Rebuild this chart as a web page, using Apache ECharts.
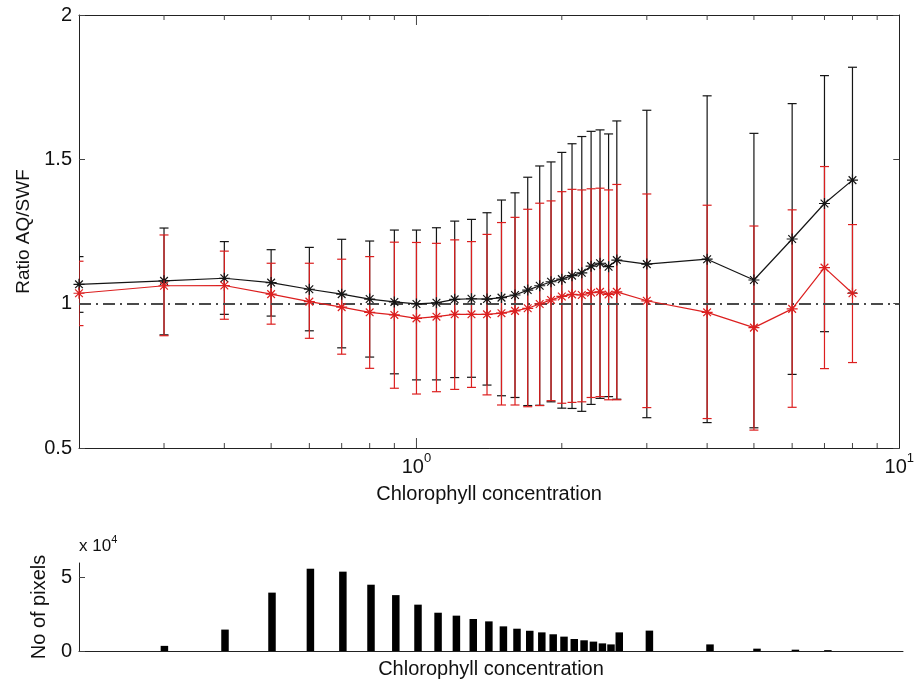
<!DOCTYPE html>
<html><head><meta charset="utf-8">
<script src="https://cdn.jsdelivr.net/npm/echarts@6/dist/echarts.min.js"></script>
<style>html,body{margin:0;padding:0;background:#fff}#c{width:917px;height:684px}</style>
</head><body><div id="c"></div>
<script>
// ---- data ----
const chl = [0.2,0.3,0.4,0.5,0.6,0.7,0.8,0.9,1.0,1.1,1.2,1.3,1.4,1.5,1.6,1.7,1.8,1.9,2.0,2.1,2.2,2.3,2.4,2.5,2.6,3,4,5,6,7,8];
const blackMean = [1.067,1.079,1.088,1.073,1.050,1.033,1.016,1.006,0.999,1.003,1.015,1.017,1.016,1.021,1.030,1.047,1.062,1.076,1.085,1.097,1.107,1.130,1.140,1.128,1.151,1.137,1.154,1.082,1.224,1.347,1.428];
const blackHi = [1.163,1.262,1.215,1.187,1.195,1.223,1.217,1.255,1.255,1.263,1.286,1.292,1.315,1.359,1.384,1.438,1.477,1.491,1.524,1.554,1.579,1.597,1.602,1.588,1.633,1.670,1.720,1.590,1.693,1.790,1.819];
const blackLo = [0.970,0.892,0.963,0.957,0.906,0.847,0.815,0.757,0.736,0.736,0.744,0.745,0.718,0.681,0.675,0.647,0.648,0.660,0.638,0.637,0.627,0.651,0.672,0.678,0.669,0.605,0.588,0.570,0.755,0.903,1.037];
const redMean = [1.036,1.062,1.063,1.033,1.007,0.988,0.970,0.961,0.949,0.955,0.963,0.963,0.963,0.967,0.975,0.984,0.999,1.013,1.025,1.032,1.030,1.038,1.041,1.032,1.041,1.010,0.970,0.917,0.982,1.125,1.036];
const redHi = [1.147,1.238,1.182,1.140,1.140,1.154,1.163,1.213,1.212,1.209,1.221,1.215,1.240,1.281,1.299,1.327,1.348,1.356,1.388,1.396,1.394,1.398,1.400,1.394,1.413,1.380,1.341,1.269,1.325,1.475,1.274];
const redLo = [0.924,0.889,0.946,0.929,0.880,0.825,0.776,0.707,0.687,0.695,0.703,0.710,0.684,0.649,0.649,0.643,0.647,0.664,0.655,0.658,0.660,0.675,0.678,0.667,0.667,0.640,0.602,0.562,0.641,0.775,0.796];
const pixelCount = [0,3500,14600,39800,56100,54100,45200,38100,31600,26100,24100,21800,20200,16800,15200,13800,12700,11400,9800,8200,7300,6400,5200,4500,12700,13900,4500,1600,900,600,0];
const minorTicks = [0.3,0.4,0.5,0.6,0.7,0.8,0.9,2,3,4,5,6,7,8,9];
const majorTicks = [1];
const xLabels = {1:'0', 10:'1'};
const refLevel = 1;

const FONT = '"Liberation Sans", Arial, Helvetica, sans-serif';
const BLACK = '#151515', RED = '#dc1f1f';
const STAR = 'path://M5,0L5,10M0,5L10,5M1.5,1.5L8.5,8.5M1.5,8.5L8.5,1.5';

function errItem(color) {
  return function (params, api) {
    const x = api.value(0);
    const p1 = api.coord([x, api.value(1)]);
    const p2 = api.coord([x, api.value(2)]);
    const hw = 4.5;
    const st = {stroke: color, lineWidth: 1.2};
    return {type: 'group', children: [
      {type: 'line', shape: {x1: p1[0], y1: p1[1], x2: p2[0], y2: p2[1]}, style: st},
      {type: 'line', shape: {x1: p1[0]-hw, y1: p1[1], x2: p1[0]+hw, y2: p1[1]}, style: st},
      {type: 'line', shape: {x1: p2[0]-hw, y1: p2[1], x2: p2[0]+hw, y2: p2[1]}, style: st}
    ]};
  };
}

const chart = echarts.init(document.getElementById('c'), null, {renderer: 'canvas'});
const axisLineStyle = {color: '#222', width: 1};
const option = {
  animation: false,
  backgroundColor: '#fff',
  textStyle: {fontFamily: FONT},
  grid: [
    {left: 79, top: 15, width: 824, height: 433},
    {left: 79, top: 563, width: 824, height: 88}
  ],
  xAxis: [
    {type: 'log', logBase: 10, min: 0.2, max: 10, gridIndex: 0, position: 'bottom',
     axisLine: {show: true, lineStyle: axisLineStyle}, axisTick: {show: false}, splitLine: {show: false},
     axisLabel: {margin: 4, color: '#111', showMinLabel: true, showMaxLabel: true,
       formatter: function (v) { const k = Math.round(v*1000)/1000; return xLabels[k] !== undefined ? '{b|10}{s|' + xLabels[k] + '}' : ''; },
       rich: {b: {fontSize: 20, fontFamily: FONT, color: '#111', verticalAlign: 'bottom', lineHeight: 22},
              s: {fontSize: 13, fontFamily: FONT, color: '#111', verticalAlign: 'bottom', padding: [0,0,12,0]}}},
     name: 'Chlorophyll concentration', nameLocation: 'middle', nameGap: 36,
     nameTextStyle: {fontSize: 20, color: '#111', fontFamily: FONT}},
    {type: 'log', logBase: 10, min: 0.2, max: 10, gridIndex: 0, position: 'top',
     axisLine: {show: true, lineStyle: axisLineStyle}, axisTick: {show: false}, axisLabel: {show: false}, splitLine: {show: false}},
    {type: 'log', logBase: 10, min: 0.2, max: 10, gridIndex: 1, position: 'bottom',
     axisLine: {show: true, lineStyle: axisLineStyle}, axisTick: {show: false}, axisLabel: {show: false}, splitLine: {show: false},
     name: 'Chlorophyll concentration', nameLocation: 'middle', nameGap: 8,
     nameTextStyle: {fontSize: 20, color: '#111', fontFamily: FONT}}
  ],
  yAxis: [
    {type: 'value', min: 0.5, max: 2, interval: 0.5, gridIndex: 0, position: 'left',
     axisLine: {show: true, lineStyle: axisLineStyle}, axisTick: {show: true, inside: true, length: 6, lineStyle: {color: '#444'}},
     splitLine: {show: false},
     axisLabel: {fontSize: 20, color: '#111', margin: 7, formatter: function (v) { return String(v); }},
     name: 'Ratio AQ/SWF', nameLocation: 'middle', nameGap: 46,
     nameTextStyle: {fontSize: 19, color: '#111', fontFamily: FONT}},
    {type: 'value', min: 0.5, max: 2, interval: 0.5, gridIndex: 0, position: 'right',
     axisLine: {show: true, lineStyle: axisLineStyle}, axisTick: {show: true, inside: true, length: 6, lineStyle: {color: '#444'}},
     axisLabel: {show: false}, splitLine: {show: false}},
    {type: 'value', min: 0, max: 60000, interval: 50000, gridIndex: 1, position: 'left',
     axisLine: {show: true, lineStyle: axisLineStyle},
     axisTick: {show: true, inside: true, length: 6, customValues: [0, 50000], lineStyle: {color: '#444'}},
     splitLine: {show: false},
     axisLabel: {fontSize: 20, color: '#111', margin: 7, customValues: [0, 50000],
       formatter: function (v) { return v === 0 ? '0' : (v === 50000 ? '5' : ''); }},
     name: 'No of pixels', nameLocation: 'middle', nameGap: 27,
     nameTextStyle: {fontSize: 20, color: '#111', fontFamily: FONT}}
  ],
  graphic: [
    {type: 'text', left: 79, top: 534, style: {rich: {a: {fontSize: 17, fontFamily: FONT, fill: '#111', verticalAlign: 'bottom'}, e: {fontSize: 11, fontFamily: FONT, fill: '#111', verticalAlign: 'bottom', padding: [0,0,10,0]}}, text: '{a|x 10}{e|4}'}}
  ],
  series: [
    {type: 'custom', xAxisIndex: 0, yAxisIndex: 0, silent: true, z: 1,
     data: minorTicks.map(v => [v, 5]).concat(majorTicks.map(v => [v, 10])),
     renderItem: function (params, api) {
       const x = api.value(0), len = api.value(1);
       const b = api.coord([x, 0.5]), t = api.coord([x, 2]);
       const st = {stroke: '#444', lineWidth: 1};
       return {type: 'group', children: [
         {type: 'line', shape: {x1: b[0], y1: b[1], x2: b[0], y2: b[1]-len}, style: st},
         {type: 'line', shape: {x1: t[0], y1: t[1], x2: t[0], y2: t[1]+len}, style: st}
       ]};
     }},
    {type: 'custom', name: 'black err', xAxisIndex: 0, yAxisIndex: 0, clip: true, z: 2,
     data: chl.map((x, i) => [x, blackLo[i], blackHi[i]]), renderItem: errItem(BLACK)},
    {type: 'custom', name: 'red err', xAxisIndex: 0, yAxisIndex: 0, clip: true, z: 3,
     data: chl.map((x, i) => [x, redLo[i], redHi[i]]), renderItem: errItem(RED)},
    {type: 'line', name: 'ref', xAxisIndex: 0, yAxisIndex: 0, data: [], z: 4,
     markLine: {silent: true, symbol: 'none', label: {show: false},
       lineStyle: {color: '#4a4a4a', width: 2, type: [12, 5, 2, 5]},
       data: [{yAxis: refLevel}]}},
    {type: 'line', name: 'black', xAxisIndex: 0, yAxisIndex: 0, z: 5, clip: false,
     data: chl.map((x, i) => [x, blackMean[i]]),
     symbol: STAR, symbolSize: 11, showAllSymbol: true,
     itemStyle: {color: 'rgba(0,0,0,0)', borderColor: BLACK, borderWidth: 1.2},
     lineStyle: {color: BLACK, width: 1.2}},
    {type: 'line', name: 'red', xAxisIndex: 0, yAxisIndex: 0, z: 6, clip: false,
     data: chl.map((x, i) => [x, redMean[i]]),
     symbol: STAR, symbolSize: 11, showAllSymbol: true,
     itemStyle: {color: 'rgba(0,0,0,0)', borderColor: RED, borderWidth: 1.2},
     lineStyle: {color: RED, width: 1.2}},
    {type: 'custom', name: 'pixels', xAxisIndex: 2, yAxisIndex: 2, z: 2,
     data: chl.map((x, i) => [x, pixelCount[i]]),
     renderItem: function (params, api) {
       const x = api.value(0), v = api.value(1);
       if (!v) return null;
       const top = api.coord([x, v]), base = api.coord([x, 0]);
       const w = 7.5;
       return {type: 'rect', shape: {x: top[0] - w/2, y: top[1], width: w, height: base[1] - top[1]}, style: {fill: '#000'}};
     }}
  ]
};
chart.setOption(option);
</script>
</body></html>
